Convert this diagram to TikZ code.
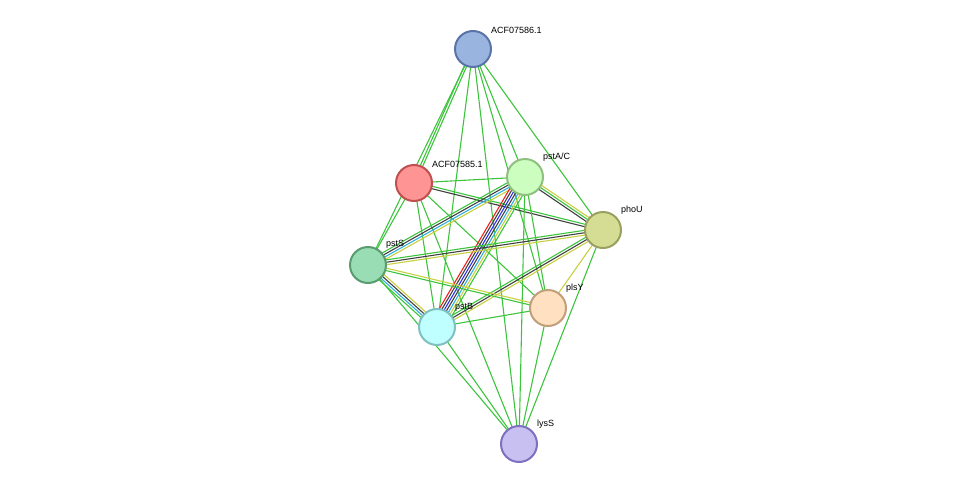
\documentclass[tikz,border=0pt]{standalone}
\usepackage{fontspec}
\setmainfont{Liberation Sans}
\usetikzlibrary{calc}
\definecolor{gr}{HTML}{3DC43D}
\definecolor{bk}{HTML}{404040}
\definecolor{bl}{HTML}{3030F0}
\definecolor{cy}{HTML}{30B0E0}
\definecolor{rd}{HTML}{F02020}
\definecolor{yl}{HTML}{C8D040}
\newcommand\linkset[4]{%
  \foreach \c [count=\i] in {#4}{%
    \pgfmathsetmacro\o{(\i-(#3+1)/2)*2.4}
    \draw[link,draw=\c] ($(#1)!\o pt!90:(#2)$) -- ($(#2)!\o pt!-90:(#1)$);}}
\begin{document}
\begin{tikzpicture}
[
	              x = 1pt, y = -1pt,
	   link/.style = { line width=1.1pt },
	protein/.style = { circle, minimum size=36pt, line width=2pt, inner sep=0pt },
	 tag/.style = { anchor=south west, inner sep=0pt, font=\fontsize{9}{10}\selectfont }
]
	\useasboundingbox (0,0) rectangle (975,490);

	\coordinate (a86)  at (473,49);
	\coordinate (a85)  at (414,183);
	\coordinate (pstA) at (525,177);
	\coordinate (phoU) at (603,230);
	\coordinate (pstS) at (368,265);
	\coordinate (plsY) at (548,308);
	\coordinate (pstB) at (437,327);
	\coordinate (lysS) at (519,444);

	% links
	\linkset{a86}{a85}{2}{gr,gr}
	\linkset{a86}{pstS}{1}{gr}
	\linkset{a86}{pstB}{1}{gr}
	\linkset{a86}{pstA}{1}{gr}
	\linkset{a86}{phoU}{1}{gr}
	\linkset{a86}{plsY}{1}{gr}
	\linkset{a86}{lysS}{1}{gr}
	\linkset{a85}{pstA}{1}{gr}
	\linkset{a85}{phoU}{2}{bk,gr}
	\linkset{a85}{pstS}{1}{gr}
	\linkset{a85}{pstB}{1}{gr}
	\linkset{a85}{plsY}{1}{gr}
	\linkset{a85}{lysS}{1}{gr}
	\linkset{pstA}{pstS}{4}{gr,bk,cy,yl}
	\linkset{pstA}{pstB}{7}{rd,bk,bl,bk,cy,yl,gr}
	\linkset{pstA}{phoU}{3}{bk,gr,yl}
	\linkset{pstA}{plsY}{1}{gr}
	\linkset{pstA}{lysS}{1}{gr}
	\linkset{phoU}{pstS}{3}{gr,bk,yl}
	\linkset{phoU}{pstB}{3}{gr,bk,yl}
	\linkset{phoU}{plsY}{1}{yl}
	\linkset{phoU}{lysS}{1}{gr}
	\linkset{pstS}{pstB}{4}{gr,cy,bk,yl}
	\linkset{pstS}{plsY}{2}{gr,yl}
	\linkset{pstS}{lysS}{1}{gr}
	\linkset{pstB}{plsY}{1}{gr}
	\linkset{pstB}{lysS}{1}{gr}
	\linkset{plsY}{lysS}{1}{gr}

	% proteins
	\node (n86)  at (a86)  [protein, fill={rgb,255:red,154;green,180;blue,224}, draw={rgb,255:red,90;green,116;blue,168}] {};
	\node (n85)  at (a85)  [protein, fill={rgb,255:red,255;green,148;blue,148}, draw={rgb,255:red,192;green,80;blue,80}] {};
	\node (nA)   at (pstA) [protein, fill={rgb,255:red,204;green,255;blue,191}, draw={rgb,255:red,144;green,192;blue,128}] {};
	\node (nU)   at (phoU) [protein, fill={rgb,255:red,213;green,221;blue,148}, draw={rgb,255:red,154;green,160;blue,96}] {};
	\node (nS)   at (pstS) [protein, fill={rgb,255:red,152;green,221;blue,180}, draw={rgb,255:red,90;green,156;blue,112}] {};
	\node (nY)   at (plsY) [protein, fill={rgb,255:red,255;green,224;blue,192}, draw={rgb,255:red,192;green,160;blue,124}] {};
	\node (nB)   at (pstB) [protein, fill={rgb,255:red,191;green,255;blue,255}, draw={rgb,255:red,128;green,192;blue,192}] {};
	\node (nL)   at (lysS) [protein, fill={rgb,255:red,200;green,192;blue,240}, draw={rgb,255:red,128;green,112;blue,192}] {};

	% names
	\node at ($(a86)+(18,-15)$)  [tag] {ACF07586.1};
	\node at ($(a85)+(18,-15)$)  [tag] {ACF07585.1};
	\node at ($(pstA)+(18,-15)$) [tag] {pstA/C};
	\node at ($(phoU)+(18,-15)$) [tag] {phoU};
	\node at ($(pstS)+(18,-16)$) [tag] {pstS};
	\node at ($(plsY)+(18,-15)$) [tag] {plsY};
	\node at ($(pstB)+(18,-15)$) [tag] {pstB};
	\node at ($(lysS)+(18,-15)$) [tag] {lysS};
\end{tikzpicture}
\end{document}
